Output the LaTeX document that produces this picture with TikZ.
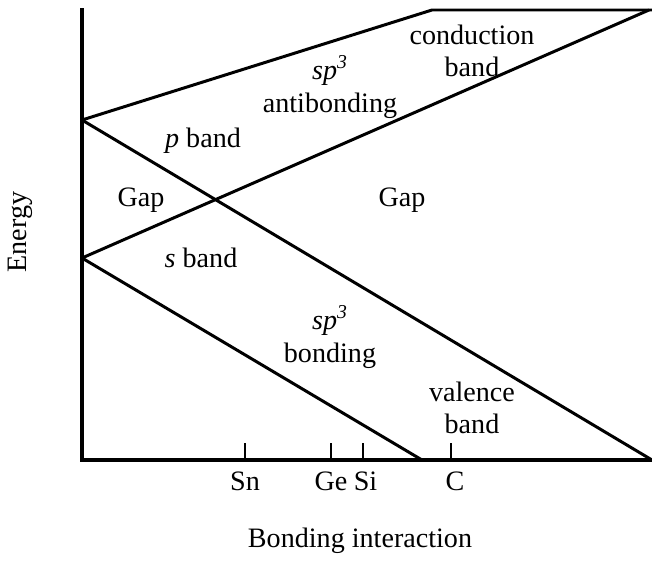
\documentclass[tikz,border=0pt]{standalone}
\usepackage{fontspec}
\setmainfont{Liberation Serif}
\usepackage{tikz}
\usetikzlibrary{positioning, calc}

\begin{document}
\begin{tikzpicture}[
            x=0.02cm, y=-0.02cm,
            axis/.style={line width=1.8pt},
            band/.style={line width=1.7pt, line join=round},
            tick/.style={line width=1.6pt},
            lbl/.style={font=\fontsize{16}{18.4}\selectfont, align=center, inner sep=0pt}
        ]
        \useasboundingbox (0,0) rectangle (652,561);

        % Punkte
        \coordinate (top) at (82,8);
        \coordinate (o) at (82,460);
        \coordinate (xend) at (652,460);
        \coordinate (p) at (82,120);
        \coordinate (s) at (82,258);
        \coordinate (knick) at (432,10);
        \coordinate (cend) at (652,10);
        \coordinate (send) at (649,10);
        \coordinate (vend) at (422,460);

        % Achsen
        \draw[axis] (top) -- (o) -- (xend);
        \node[lbl, rotate=90] (energy) at (20,232) {Energy};
        \node[lbl] (bonding) at (360,541) {Bonding interaction};

        % Baender
        \draw[band] (p) -- (knick) -- (cend);
        \draw[band] (p) -- (xend);
        \draw[band] (s) -- (send);
        \draw[band] (s) -- (vend);

        % Elemente
        \coordinate (sn) at (245,460);
        \coordinate (ge) at (331,460);
        \coordinate (si) at (363,460);
        \coordinate (c) at (451,460);
        \draw[tick] (sn) -- ++(0,-17);
        \draw[tick] (ge) -- ++(0,-17);
        \draw[tick] (si) -- ++(0,-17);
        \draw[tick] (c) -- ++(0,-17);
        \node[lbl, below=0.24cm of sn] (snlbl) {Sn};
        \node[lbl, below=0.24cm of ge] (gelbl) {Ge};
        \node[lbl, below=0.24cm of si, xshift=0.05cm] (silbl) {Si};
        \node[lbl, below=0.24cm of c, xshift=0.08cm] (clbl) {C};

        % Beschriftungen
        \node[lbl] (cb) at (472,51) {conduction\\band};
        \node[lbl] (anti) at (330,87) {\textit{sp\textsuperscript{3}}\\antibonding};
        \node[lbl] (pband) at (203,141) {\textit{p} band};
        \node[lbl] (gapl) at (141,200) {Gap};
        \node[lbl] (gapr) at (402,200) {Gap};
        \node[lbl] (sband) at (201,258) {\textit{s} band};
        \node[lbl] (bond) at (330,337) {\textit{sp\textsuperscript{3}}\\bonding};
        \node[lbl] (vb) at (472,408) {valence\\band};

    \end{tikzpicture}
\end{document}
